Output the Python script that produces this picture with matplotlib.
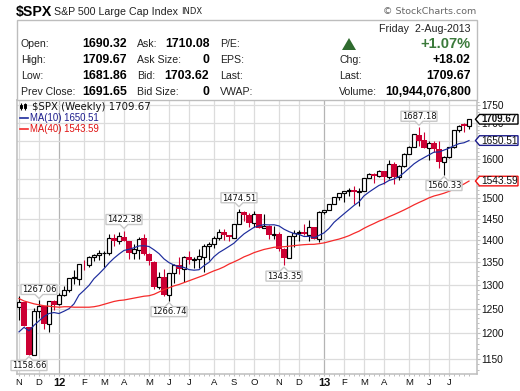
import matplotlib
matplotlib.use('Agg')
import matplotlib.pyplot as plt
from matplotlib.ticker import FixedLocator, NullFormatter
from matplotlib.patches import Polygon, Rectangle

plt.rcParams['font.family'] = ['Liberation Sans', 'DejaVu Sans']

# weekly candles, Nov 2011 to 2 Aug 2013
opens = [1253, 1263.9, 1212, 1158.7, 1246, 1255, 1219.7, 1265, 1258.9, 1277.8,
         1289, 1315.3, 1312, 1344.3, 1343, 1361, 1365, 1369.6, 1370.8, 1406,
         1397, 1408, 1397, 1370, 1378, 1406, 1369, 1351, 1296, 1318,
         1278, 1325, 1343, 1334, 1362, 1355.5, 1357, 1362, 1386, 1391,
         1406, 1418, 1411, 1406, 1437, 1467, 1460, 1440.5, 1461, 1428.5,
         1433, 1412, 1414, 1380, 1359, 1409, 1416, 1418, 1413, 1430,
         1402, 1466, 1472, 1486, 1503, 1513, 1518, 1519.9, 1516, 1518,
         1551, 1561, 1557, 1570, 1553, 1589, 1555, 1582, 1615, 1634,
         1667, 1652, 1631, 1644, 1628, 1592, 1606, 1632, 1680, 1695, 1690.32]
highs = [1276, 1264.3, 1212.5, 1252, 1267.06, 1256, 1265.4, 1269, 1283, 1296.8,
         1315.5, 1333.5, 1345, 1354, 1363, 1368, 1378, 1374, 1414, 1414.5,
         1420, 1422.38, 1399, 1391, 1408, 1415, 1371, 1353, 1328, 1334,
         1326, 1345, 1362, 1363, 1374, 1361, 1380, 1391, 1395, 1409,
         1426, 1426, 1413, 1438, 1474.51, 1468, 1463, 1468, 1461, 1462,
         1435, 1434, 1420, 1382, 1409.5, 1424, 1423, 1439, 1448, 1431,
         1470, 1472.5, 1486, 1503, 1514, 1518, 1525, 1530, 1525, 1552,
         1564, 1564, 1571, 1570, 1597, 1593, 1585, 1618, 1635, 1668,
         1687.18, 1675, 1648, 1648, 1650, 1608, 1632, 1680.5, 1694, 1698, 1709.67]
lows = [1226, 1215, 1158.66, 1158.7, 1231, 1208, 1202, 1248, 1258, 1277,
        1285, 1303, 1300, 1333, 1340, 1352, 1354, 1339, 1366, 1386,
        1391, 1397, 1357, 1358, 1358, 1367, 1343, 1291, 1291, 1277,
        1266.74, 1304, 1324, 1307, 1345, 1336, 1336, 1328, 1354, 1382,
        1400, 1400, 1399, 1406, 1437, 1445, 1431, 1430, 1428, 1428,
        1403, 1402, 1374, 1343.35, 1359, 1385, 1398, 1412, 1398, 1402,
        1395, 1462, 1471, 1485, 1495, 1492, 1506, 1485, 1482, 1518,
        1551, 1538, 1555, 1537, 1548, 1537, 1546, 1581, 1614, 1632,
        1635, 1630, 1598, 1620, 1578, 1560.33, 1603, 1630, 1673, 1673, 1681.86]
closes = [1263.85, 1215.65, 1158.67, 1244.28, 1255.19, 1219.66, 1265.33, 1257.6, 1277.81, 1289.09,
          1315.38, 1316.33, 1344.9, 1342.64, 1361.23, 1365.74, 1369.63, 1370.87, 1404.17, 1397.11,
          1408.47, 1398.08, 1370.26, 1378.53, 1403.36, 1369.1, 1353.39, 1295.22, 1317.82, 1278.04,
          1325.66, 1342.84, 1335.02, 1362.16, 1354.68, 1356.78, 1362.66, 1385.97, 1390.99, 1405.87,
          1418.16, 1411.13, 1406.58, 1437.92, 1465.77, 1460.15, 1440.67, 1460.93, 1428.59, 1433.19,
          1411.94, 1414.2, 1379.85, 1359.88, 1409.15, 1416.18, 1418.1, 1413.58, 1430.15, 1402.43,
          1466.47, 1472.05, 1485.98, 1502.96, 1513.17, 1517.93, 1519.79, 1515.6, 1518.2, 1551.18,
          1560.7, 1556.89, 1569.19, 1553.28, 1588.85, 1555.25, 1582.24, 1614.42, 1633.7, 1667.47,
          1649.6, 1630.74, 1643.38, 1626.73, 1592.43, 1606.28, 1631.89, 1680.19, 1692.09, 1691.65, 1709.67]

ma10 = [1203, 1212, 1205, 1216, 1225, 1234, 1240, 1242, 1240, 1244.7,
        1249.9, 1259.9, 1278.6, 1288.4, 1299, 1313.6, 1324.1, 1335.4, 1348, 1358.8,
        1368.1, 1376.3, 1378.9, 1382.4, 1386.6, 1387, 1385.3, 1377.8, 1369.1, 1357.2,
        1348.9, 1343.4, 1339.9, 1338.2, 1333.4, 1332.1, 1333.1, 1342.1, 1349.5, 1362.2,
        1371.5, 1378.3, 1385.5, 1393, 1404.2, 1414.5, 1422.3, 1429.8, 1433.6, 1436.3,
        1435.7, 1436, 1433.3, 1425.5, 1419.8, 1415.4, 1413.2, 1408.4, 1408.6, 1405.5,
        1411, 1416.8, 1427.4, 1441.7, 1452.1, 1462.3, 1472.4, 1482.6, 1491.4, 1506.3,
        1515.7, 1524.2, 1532.5, 1537.6, 1545.1, 1548.9, 1555.1, 1565, 1576.6, 1588.2,
        1597.1, 1604.5, 1611.9, 1619.2, 1619.6, 1624.7, 1629.7, 1636.3, 1642.1, 1644.5, 1650.51]
ma40 = [1271, 1266, 1263, 1260, 1258, 1256, 1255, 1254, 1253, 1254,
        1254, 1253, 1253, 1253, 1253, 1254, 1256, 1259, 1262, 1265,
        1267, 1268, 1270, 1272, 1274, 1276, 1277, 1280, 1285, 1290,
        1294, 1298, 1301, 1305, 1309, 1313, 1317, 1321, 1326, 1330.7,
        1334.6, 1339.5, 1345.7, 1350.5, 1355.8, 1361.8, 1366.2, 1371.3, 1375, 1378.6,
        1381, 1383.5, 1384.4, 1384.8, 1386, 1387.3, 1388.5, 1389.5, 1390.2, 1390.3,
        1391.8, 1393.6, 1396.5, 1399.6, 1402.4, 1406.1, 1410.3, 1415.8, 1420.8, 1427.6,
        1433.5, 1438.9, 1444.7, 1449.5, 1455.3, 1460.3, 1465.8, 1471.5, 1477.6, 1484.1,
        1489.9, 1495.4, 1501.3, 1506, 1509.2, 1512.9, 1517.6, 1523.1, 1529.7, 1536.2, 1543.59]

month_pos = [0, 4, 8, 13, 17, 21, 26, 30, 34, 39, 43, 47, 52, 56, 61, 65, 69, 73, 78, 82, 86]
month_labels = ['N', 'D', '12', 'F', 'M', 'A', 'M', 'J', 'J', 'A', 'S', 'O', 'N', 'D', '13', 'F', 'M', 'A', 'M', 'J', 'J']
price_ticks = [1150, 1200, 1250, 1300, 1350, 1400, 1450, 1500, 1550, 1600, 1650, 1700, 1750]
# 1650 and 1550 sit behind the MA tags in the reference
price_labels = ['1150', '1200', '1250', '1300', '1350', '1400', '1450', '1500', '', '1600', '', '1700', '1750']

row_labels = ['Open:', 'High:', 'Low:', 'Prev Close:']
row_values = ['1690.32', '1709.67', '1681.86', '1691.65']
ask_labels = ['Ask:', 'Ask Size:', 'Bid:', 'Bid Size:']
ask_values = ['1710.08', '0', '1703.62', '0']
misc_labels = ['P/E:', 'EPS:', 'Last:', 'VWAP:']
right_labels = ['Chg:', 'Last:', 'Volume:']
right_values = ['+18.02', '1709.67', '10,944,076,800']

# candle index and whether the note sits above (high) or below (low)
notes = [(2, False), (4, True), (21, True), (30, False), (44, True), (53, False), (80, True), (85, False)]

RED = '#cc0033'
GRID = '#dcdcdc'
EDGE = '#bdbdbd'
W, H = 520, 391

fig = plt.figure(figsize=(5.2, 3.91), dpi=100)
ax = fig.add_axes([16.5 / W, 1 - 374 / H, 460 / W, 274 / H])
ax.set_yscale('log')
ax.set_xlim(-0.5, 91.5)
ax.set_ylim(1122, 1765)

# wicks then bodies
for i in range(len(closes)):
    up = closes[i] >= opens[i]
    color = 'black' if up else RED
    ax.vlines(i, lows[i], highs[i], color=color, lw=0.8, zorder=3)
    if up:
        ax.bar(i, closes[i] - opens[i], bottom=opens[i], width=0.85, facecolor='white',
               edgecolor='black', lw=0.85, zorder=4)
    else:
        ax.bar(i, opens[i] - closes[i], bottom=closes[i], width=1.05, color=RED, lw=0, zorder=4)

ax.plot(range(len(ma10)), ma10, color='#1c2b9c', lw=0.85, zorder=5)
ax.plot(range(len(ma40)), ma40, color='#f52a2a', lw=0.9, zorder=5)

ax.set_axisbelow(True)
ax.yaxis.tick_right()
ax.set_yticks(price_ticks, price_labels)
ax.yaxis.set_minor_locator(FixedLocator(list(range(1130, 1761, 10))))
ax.yaxis.set_minor_formatter(NullFormatter())
ax.tick_params(axis='y', which='major', length=2.5, color=EDGE, labelsize=7.3, pad=1, labelcolor='#111111')
ax.tick_params(axis='y', which='minor', length=1.2, color=EDGE, width=0.7)
ax.set_xticks(month_pos, month_labels)
ax.set_xticks(range(len(closes)), minor=True)
ax.tick_params(axis='x', which='major', length=1.2, color=EDGE, labelsize=6.8, pad=1.8, labelcolor='#111111')
ax.tick_params(axis='x', which='minor', length=1.2, color=EDGE, width=0.7)
ax.grid(True, which='major', color=GRID, lw=0.9)
for lab, gl, name in zip(ax.get_xticklabels(), ax.get_xgridlines(), month_labels):
    if name in ('12', '13'):
        lab.set_fontweight('bold')
        lab.set_fontsize(8)
        gl.set_color('#b4b4b4')
for s in ax.spines.values():
    s.set_color(EDGE)
    s.set_linewidth(1.1)

# overlay in pixel coordinates for the header, table and tags
ov = fig.add_axes([0, 0, 1, 1], zorder=10)
ov.set_xlim(0, W)
ov.set_ylim(H, 0)
ov.axis('off')
ov.patch.set_alpha(0)


def to_px(i, price):
    x, y = ax.transData.transform((i, price))
    return x * W / fig.bbox.width, H - y * H / fig.bbox.height


ov.text(16, 12, '$SPX', fontsize=10.2, fontweight='bold', va='center')
ov.text(54, 12, 'S&P 500 Large Cap Index', fontsize=7.7, va='center', color='#222222')
ov.text(181.5, 12, 'INDX', fontsize=6, va='center', family='DejaVu Sans', color='#222222')
ov.text(476, 12, '© StockCharts.com', fontsize=6.8, va='center', ha='right', family='DejaVu Sans', color='#666666')
ov.add_patch(Rectangle((16.5, 20), 460, 80, facecolor='white', edgecolor=EDGE, lw=1.0))
ov.text(470.7, 28.5, 'Friday  2-Aug-2013', fontsize=7.7, ha='right', va='center', color='#222222')

row_y = [44, 60, 76, 92]
for y, a, b, c, d, e in zip(row_y, row_labels, row_values, ask_labels, ask_values, misc_labels):
    ov.text(20.7, y, a, fontsize=7.6, va='center', color='#222222')
    ov.text(126.7, y, b, fontsize=8.8, va='center', ha='right', fontweight='bold')
    ov.text(136.7, y, c, fontsize=7.6, va='center', color='#222222')
    ov.text(209.3, y, d, fontsize=8.8, va='center', ha='right', fontweight='bold')
    ov.text(220, y, e, fontsize=7.6, va='center', color='#222222')

ov.add_patch(Polygon([(342, 50), (356, 50), (349, 38)], color='#2f6b2f', lw=0))
ov.text(470.7, 44, '+1.07%', fontsize=10.5, va='center', ha='right', fontweight='bold', color='#3b7a3b')
for y, a, b in zip(row_y[1:], right_labels, right_values):
    ov.text(339.3, y, a, fontsize=7.6, va='center', color='#222222')
    ov.text(470.7, y, b, fontsize=8.8, va='center', ha='right', fontweight='bold')

# legend
ov.vlines([21, 25], [103, 103], [110, 110], color='black', lw=0.8)
ov.add_patch(Rectangle((20, 105), 2, 3, facecolor='white', edgecolor='black', lw=0.7))
ov.add_patch(Rectangle((24, 104), 2, 4, facecolor='white', edgecolor='black', lw=0.7))
ov.text(32, 107.5, '$SPX (Weekly) 1709.67', fontsize=7.3, va='center', family='DejaVu Sans', color='#111111')
ov.plot([20, 28], [118, 118], color='#1c2b9c', lw=1.2)
ov.text(29.5, 118, 'MA(10) %.2f' % ma10[-1], fontsize=6.9, va='center', color='#1c1c8c')
ov.plot([20, 28], [129, 129], color='#f52a2a', lw=1.2)
ov.text(29.5, 129, 'MA(40) %.2f' % ma40[-1], fontsize=6.9, va='center', color='#e01010')

# high / low call-outs
for i, above in notes:
    value = highs[i] if above else lows[i]
    px, py = to_px(i, value)
    d = -1 if above else 1
    tip = py + d * 2
    near = tip + d * 4
    far = near + d * 10
    ov.add_patch(Polygon([(px - 18, near), (px - 4, near), (px, tip), (px + 4, near), (px + 18, near),
                          (px + 18, far), (px - 18, far)], facecolor='white', edgecolor='#c8c8c8', lw=1.0))
    ov.text(px, (near + far) / 2 + 0.3, '%.2f' % value, fontsize=6, ha='center', va='center',
            family='DejaVu Sans', color='#111111')

# last value tags on the right
tags = [(closes[-1], 'black', 'bold', 7.0), (ma10[-1], '#1c1c8c', 'normal', 7.3), (ma40[-1], '#f01010', 'normal', 7.3)]
for value, color, weight, size in tags:
    _, py = to_px(90, value)
    ov.add_patch(Polygon([(475.5, py), (479.5, py - 4.8), (518, py - 4.8), (518, py + 4.8), (479.5, py + 4.8)],
                         facecolor='white', edgecolor=color, lw=1.0))
    ov.text(481, py + 0.2, '%.2f' % value, fontsize=size, va='center', fontweight=weight, color='#111111')

fig.savefig('out.png', dpi=100)
